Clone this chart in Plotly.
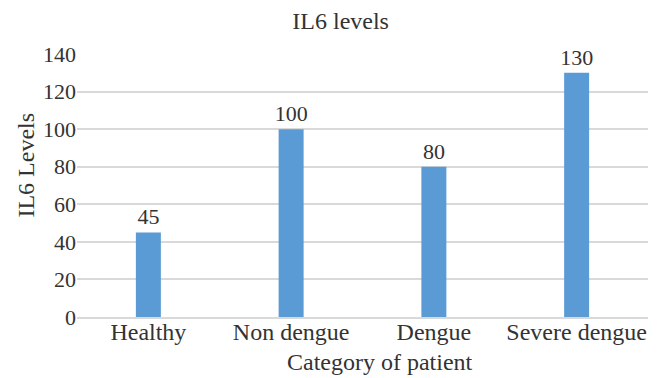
import plotly.graph_objects as go

categories = ["Healthy", "Non dengue", "Dengue", "Severe dengue"]
values = [45, 100, 80, 130]
y_ticks = [0, 20, 40, 60, 80, 100, 120, 140]

FONT = "Liberation Serif, Times New Roman, serif"
TXT = "#333333"

fig = go.Figure(go.Bar(
    x=categories, y=values,
    marker=dict(color="#5B9BD5", line=dict(width=0)),
    text=[str(v) for v in values], textposition="outside",
    textfont=dict(family=FONT, size=22, color=TXT),
    constraintext="none",
    cliponaxis=False,
))

fig.update_layout(
    width=664, height=370,
    margin=dict(l=69, r=24, t=46, b=61, autoexpand=False),
    paper_bgcolor="white", plot_bgcolor="white",
    font=dict(family=FONT, size=22, color=TXT),
    showlegend=False,
    bargap=0.825,
    title=dict(text="IL6 levels", x=0.501, xanchor="center", y=0.967, yanchor="middle",
               yref="container", automargin=False,
               font=dict(family=FONT, size=24, color=TXT)),
    annotations=[
        dict(text="IL6 Levels", xref="paper", yref="paper", x=-0.091, y=0.576,
             xanchor="center", yanchor="middle", textangle=-90, showarrow=False,
             font=dict(family=FONT, size=24, color=TXT)),
        dict(text="Category of patient", xref="paper", yref="paper", x=0.531, y=-0.172,
             xanchor="center", yanchor="middle", showarrow=False,
             font=dict(family=FONT, size=24, color=TXT)),
    ],
)
fig.update_xaxes(
    showline=True, linecolor="#d9d9d9", linewidth=2,
    showgrid=False, ticks="", automargin=False,
    ticklabelstandoff=-8,
    tickfont=dict(size=24),
)
fig.update_yaxes(
    range=[0, 140], tickvals=y_ticks,
    showgrid=True, gridcolor="#d9d9d9", gridwidth=1.5,
    zeroline=False, showline=False, ticks="", automargin=False,
    tickfont=dict(size=22),
)

fig.write_html("out.html")
